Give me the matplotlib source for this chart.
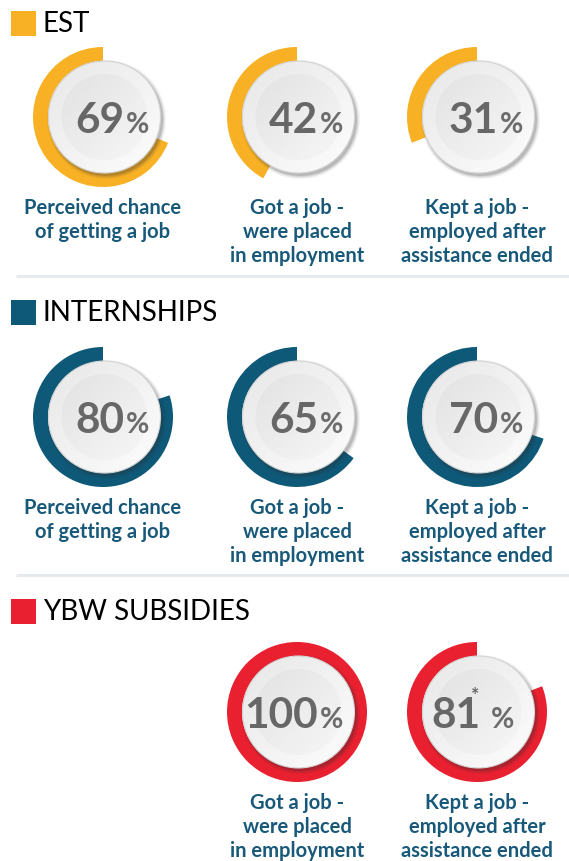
"""
Gauge infographic: employment outcomes for three programme types.
"""

import numpy as np
import matplotlib
matplotlib.use("Agg")
import matplotlib.pyplot as plt
from matplotlib.patches import Wedge, Circle, Rectangle

plt.rcParams['font.family'] = ['Lato', 'DejaVu Sans']

W, H = 569, 861

# --- data ---------------------------------------------------------------
sections = ["EST", "INTERNSHIPS", "YBW SUBSIDIES"]
section_colors = ["#f8b124", "#0e5878", "#e8202f"]
est_values = [69, 42, 31]
internship_values = [80, 65, 70]
ybw_values = [None, 100, 81]
ybw_starred = [False, False, True]
measure_labels = [
    "Perceived chance\nof getting a job",
    "Got a job -\nwere placed\nin employment",
    "Kept a job -\nemployed after\nassistance ended",
]

values = [est_values, internship_values, ybw_values]
stars = [[False] * 3, [False] * 3, ybw_starred]

# --- layout (pixels from top) -------------------------------------------
col_x = [103, 297, 477]
row_y = [117, 417, 712]
header_y = [23.5, 312, 611]
sep_y = [276, 575]
R_OUT, RING_W, R_PLATE, R_INNER = 70, 15, 56, 43

fig = plt.figure(figsize=(W / 100, H / 100), dpi=100)
ax = fig.add_axes([0, 0, 1, 1])
ax.set_xlim(0, W)
ax.set_ylim(0, H)
ax.set_aspect('equal')
ax.axis('off')


def Y(y):
    return H - y


# diagonal gradients for the "plate": darker top-left, lighter bottom-right
n = 200
gx, gy = np.meshgrid(np.linspace(-1, 1, n), np.linspace(-1, 1, n))
diag = np.clip((gx + gy) / 2, -1, 1)  # imshow origin upper: gy grows downward
rim_grad = 0.905 + 0.085 * (diag + 1) / 2
inner_grad = 0.885 + 0.08 * (diag + 1) / 2


def draw_plate(cx, cy):
    # soft shadow to the lower right
    for k, a in enumerate([0.05, 0.07, 0.10, 0.16]):
        ax.add_patch(Circle((cx + 2, cy - 2.5), R_PLATE + 3.5 - k, color='#333333',
                            alpha=a, lw=0, zorder=3))
    ax.add_patch(Circle((cx, cy), R_PLATE, facecolor='none', edgecolor='#d4d4d4',
                        lw=0.8, zorder=5))
    im = ax.imshow(rim_grad, cmap='gray', vmin=0, vmax=1, zorder=4,
                   extent=(cx - R_PLATE, cx + R_PLATE, cy - R_PLATE, cy + R_PLATE))
    im.set_clip_path(Circle((cx, cy), R_PLATE, transform=ax.transData))
    im2 = ax.imshow(inner_grad, cmap='gray', vmin=0, vmax=1, zorder=4.5,
                    extent=(cx - R_INNER, cx + R_INNER, cy - R_INNER, cy + R_INNER))
    im2.set_clip_path(Circle((cx, cy), R_INNER, transform=ax.transData))


for s, (name, color) in enumerate(zip(sections, section_colors)):
    # header
    ax.add_patch(Rectangle((11, Y(header_y[s]) - 12.5), 25, 25, color=color, lw=0))
    ax.text(43, Y(header_y[s]) - 1, name, fontsize=20, fontweight='normal',
            color='black', va='center', ha='left')

    for c in range(3):
        v = values[s][c]
        if v is None:
            continue
        cx, cy = col_x[c], Y(row_y[s])
        ax.add_patch(Wedge((cx, cy), R_OUT, 90, 90 + 3.6 * v, width=RING_W,
                           color=color, lw=0, zorder=2))
        draw_plate(cx + 1.5, cy)

        base = cy - 16
        starred = stars[s][c]
        num_x = cx + 4 if starred else cx + 21
        num = ax.text(num_x, base, f"{v}", fontsize=30.5, fontweight='bold',
                      color='#676767', ha='right', va='baseline', zorder=6)
        ax.annotate('%', xy=(1, base), xycoords=(num, 'data'),
                    xytext=(7 if starred else 1, 0),
                    textcoords='offset points', fontsize=20.5, fontweight='bold',
                    color='#6c6c6c', ha='left', va='baseline', zorder=6)
        if starred:
            ax.annotate('*', xy=(1, base + 33), xycoords=(num, 'data'), xytext=(-4, 0),
                        textcoords='offset points', fontsize=14, fontweight='bold',
                        color='#676767', ha='center', va='center', zorder=6)

        ax.text(cx, Y(row_y[s] + 81), measure_labels[c], fontsize=14.5, fontweight='bold',
                color='#18597a', ha='center', va='top', linespacing=1.24)

for y in sep_y:
    ax.plot([16, W], [Y(y), Y(y)], color='#e6eaee', lw=2.2, solid_capstyle='butt')

fig.savefig('out.png', dpi=100)
